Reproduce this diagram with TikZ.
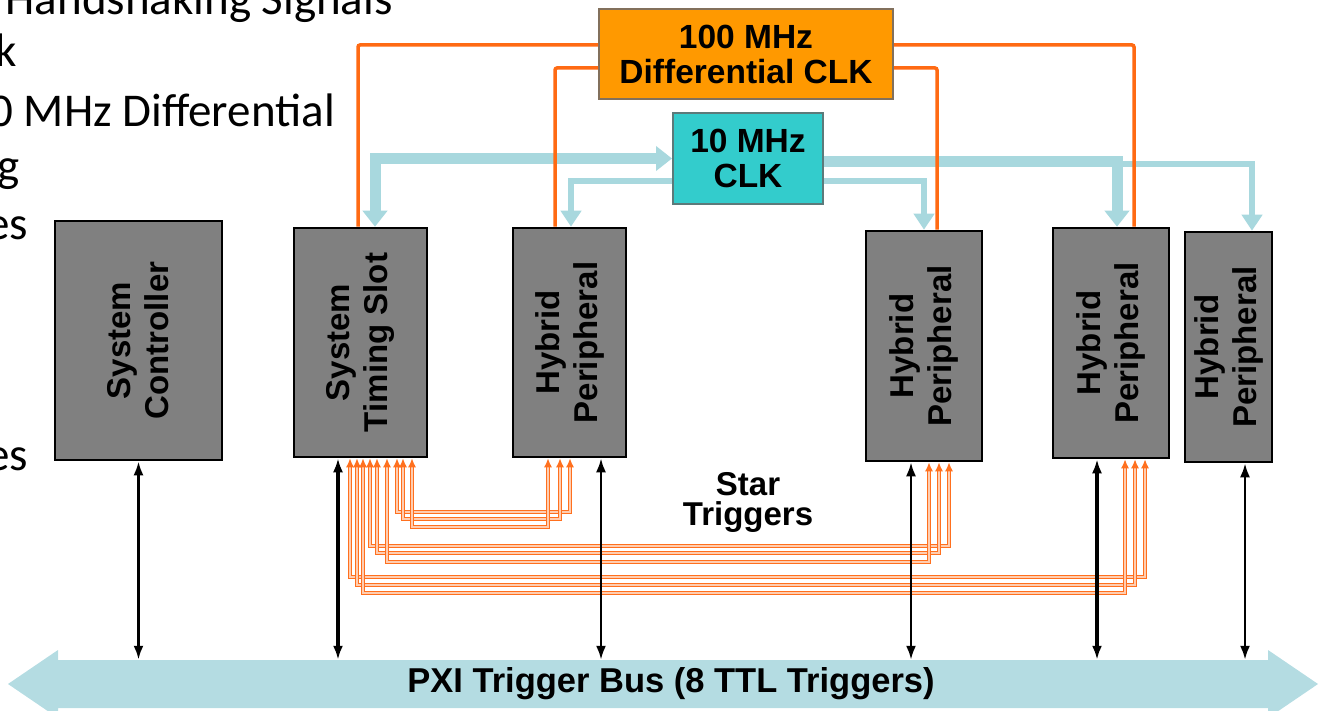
\documentclass[tikz,border=0pt]{standalone}
\usepackage{fontspec}
\setmainfont{Carlito}
\newfontfamily\diagfont{Liberation Sans}
\usetikzlibrary{arrows.meta}

\definecolor{slotgray}{RGB}{128,128,128}
\definecolor{diffclk}{RGB}{255,153,0}
\definecolor{diffedge}{RGB}{130,112,92}
\definecolor{tenclk}{RGB}{51,204,204}
\definecolor{tenedge}{RGB}{92,122,122}
\definecolor{clkorange}{RGB}{255,106,19}
\definecolor{trigorange}{RGB}{255,112,30}
\definecolor{tenblue}{RGB}{168,216,222}
\definecolor{busblue}{RGB}{180,220,226}

\begin{document}
\begin{tikzpicture}[x=1pt,y=-1pt,>=Latex]
  \tikzstyle{slot}=[draw,fill=slotgray,line width=2.5pt,inner sep=0pt]
  \tikzstyle{slotlabel}=[rotate=90,align=center,font=\diagfont\bfseries\fontsize{33}{38}\selectfont]
  \tikzstyle{clkbox}=[line width=2pt,inner sep=0pt,align=center,font=\diagfont\bfseries\fontsize{33.5}{35}\selectfont]
  \tikzstyle{slide}=[anchor=base east,inner sep=0pt,font=\fontsize{47}{56}\selectfont]
  \tikzstyle{busline}=[line width=3.5pt,{Latex[length=14pt,width=10pt]}-{Latex[length=14pt,width=10pt]}]
  \tikzstyle{diffline}=[draw=clkorange,line width=3.5pt,rounded corners=2pt]
  \tikzstyle{tenline}=[draw=tenblue,line width=11pt,-{Triangle[length=16pt,width=24pt]}]
  \tikzstyle{tenthin}=[draw=tenblue,line width=6pt,-{Triangle[length=16pt,width=20pt]}]
  \tikzstyle{trig}=[draw=trigorange,line width=1.6pt,double=trigorange!35,double distance=1.3pt,{Latex[length=9pt,width=8pt]}-{Latex[length=9pt,width=8pt]}]
  \useasboundingbox (0,0) rectangle (1324,711);
  \clip (0,0) rectangle (1324,711);

  % slide text behind the picture
  \node[slide] (hs) at (393,15) {Handshaking Signals};
  \node[slide] (lk) at (17,67) {k};
  \node[slide] (ld) at (335,127) {0 MHz Differential};
  \node[slide] (lg) at (20,182) {g};
  \node[slide] (les) at (28,240) {es};
  \node[slide] (lesb) at (28,470) {es};

  % trigger bus
  \fill[busblue] (8,684) -- (58,650) -- (58,660) -- (1268,660) -- (1268,650) -- (1318,684)
    -- (1268,718) -- (1268,708) -- (58,708) -- (58,718) -- cycle;
  \node[inner sep=0pt,minimum width=1210pt,minimum height=48pt,font=\diagfont\bfseries\fontsize{34.5}{36}\selectfont]
    (bus) at (671,684) {PXI Trigger Bus (8 TTL Triggers)};

  % slots
  \node[slot,minimum width=167pt,minimum height=239pt] (ctrl) at (138.5,340.5) {};
  \node[slot,minimum width=133pt,minimum height=229pt] (tslot) at (360.5,342.5) {};
  \node[slot,minimum width=113pt,minimum height=229pt] (hyb1) at (569.5,342.5) {};
  \node[slot,minimum width=116pt,minimum height=230pt] (hyb2) at (924,346) {};
  \node[slot,minimum width=116pt,minimum height=230pt] (hyb3) at (1111,343) {};
  \node[slot,minimum width=87pt,minimum height=230pt] (hyb4) at (1228.5,347) {};
  \node[slotlabel] (ctrllbl) at (ctrl) {System\\Controller};
  \node[slotlabel] (tslotlbl) at (tslot) {System\\Timing Slot};
  \node[slotlabel] (hyb1lbl) at (hyb1) {Hybrid\\Peripheral};
  \node[slotlabel] (hyb2lbl) at (hyb2) {Hybrid\\Peripheral};
  \node[slotlabel] (hyb3lbl) at (hyb3) {Hybrid\\Peripheral};
  \node[slotlabel] (hyb4lbl) at (hyb4) {Hybrid\\Peripheral};

  % clocks
  \node[clkbox,draw=diffedge,fill=diffclk,minimum width=294pt,minimum height=90pt] (diff) at (746,54) {100 MHz\\Differential CLK};
  \node[clkbox,draw=tenedge,fill=tenclk,minimum width=150pt,minimum height=91pt] (ten) at (748,158.5) {10 MHz\\CLK};

  % 10 MHz
  \draw[tenline,{Triangle[length=16pt,width=24pt]}-{Triangle[length=16pt,width=24pt]}] ([xshift=14.5pt]tslot.north) |- (ten.west);
  \draw[tenthin] ([yshift=-22.5pt]ten.west) -| ([xshift=1.5pt]hyb1.north);
  \draw[tenthin] ([yshift=-6pt]ten.east) -| ([xshift=23.5pt]hyb4.north);
  \draw[tenline] ([yshift=-3.5pt]ten.east) -| ([xshift=6pt]hyb3.north);
  \draw[tenthin] ([yshift=-22.5pt]ten.east) -| (hyb2.north);

  % 100 MHz
  \draw[diffline] ([yshift=9pt]diff.west) -| ([xshift=-2.5pt]tslot.north);
  \draw[diffline] ([yshift=-14pt]diff.west) -| ([xshift=-14.5pt]hyb1.north);
  \draw[diffline] ([yshift=9pt]diff.east) -| ([xshift=23pt]hyb3.north);
  \draw[diffline] ([yshift=-14pt]diff.east) -| ([xshift=13pt]hyb2.north);

  % star triggers
  \draw[trig] ([xshift=-10.5pt]tslot.south) |- (700,577) -| ([xshift=34pt]hyb3.south);
  \draw[trig] ([xshift=-3.5pt]tslot.south) |- (700,585) -| ([xshift=24pt]hyb3.south);
  \draw[trig] ([xshift=2.5pt]tslot.south) |- (700,593) -| ([xshift=14pt]hyb3.south);
  \draw[trig] ([xshift=9.5pt]tslot.south) |- (700,546) -| ([xshift=25pt]hyb2.south);
  \draw[trig] ([xshift=16.5pt]tslot.south) |- (700,553) -| ([xshift=15pt]hyb2.south);
  \draw[trig] ([xshift=26.5pt]tslot.south) |- (700,562) -| ([xshift=5pt]hyb2.south);
  \draw[trig] ([xshift=36.5pt]tslot.south) |- (480,512) -| ([xshift=0.5pt]hyb1.south);
  \draw[trig] ([xshift=42.5pt]tslot.south) |- (480,519) -| ([xshift=-9.5pt]hyb1.south);
  \draw[trig] ([xshift=51.5pt]tslot.south) |- (480,527) -| ([xshift=-21.5pt]hyb1.south);
  \node[align=center,font=\diagfont\bfseries\fontsize{33}{30}\selectfont] (star) at (748,502) {Star\\Triggers};

  % to the bus
  \draw[busline] (ctrl.south) -- (ctrl.south |- bus.north);
  \draw[busline] ([xshift=-22.5pt]tslot.south) -- ([xshift=-22.5pt]tslot.south |- bus.north);
  \draw[busline,line width=2.5pt] ([xshift=31.5pt]hyb1.south) -- ([xshift=31.5pt]hyb1.south |- bus.north);
  \draw[busline,line width=2.5pt] ([xshift=-13pt]hyb2.south) -- ([xshift=-13pt]hyb2.south |- bus.north);
  \draw[busline] ([xshift=-14pt]hyb3.south) -- ([xshift=-14pt]hyb3.south |- bus.north);
  \draw[busline,line width=2.5pt] ([xshift=16.5pt]hyb4.south) -- ([xshift=16.5pt]hyb4.south |- bus.north);
\end{tikzpicture}
\end{document}
